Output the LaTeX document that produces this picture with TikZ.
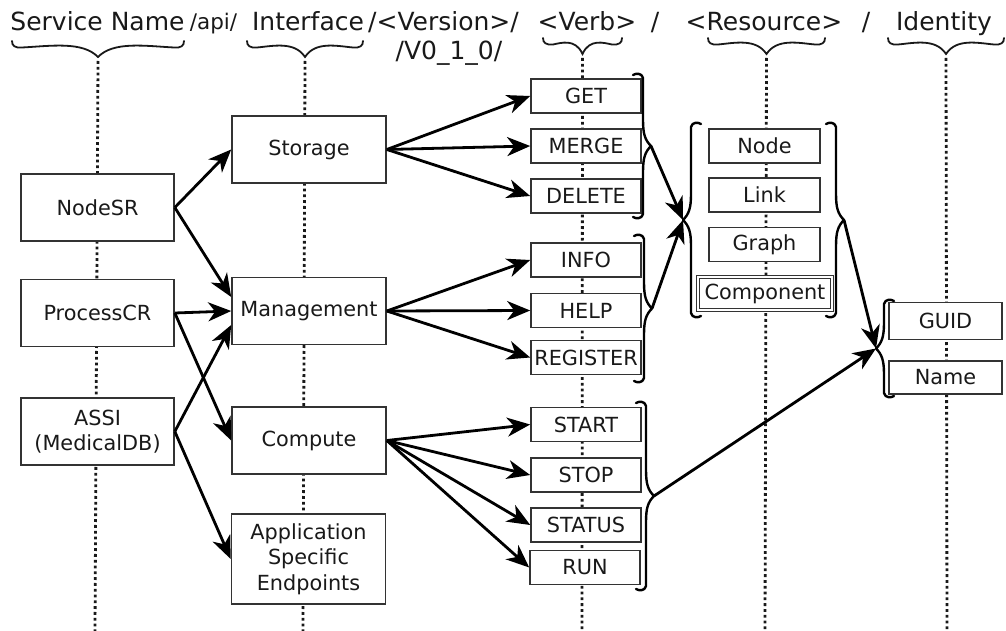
\documentclass[tikz,border=0pt]{standalone}
\usepackage{fontspec}
\setmainfont{DejaVu Sans}
\usetikzlibrary{arrows.meta}

% horizontal curly brace under a header word: left x, right x, top y, name of the tip
\newcommand\TopBrace[4]{%
  \pgfmathsetmacro\tbm{(#1+#2)/2}%
  \pgfmathsetmacro\tbh{(#2-#1)/2}%
  \draw[bracepen] (#1,#3) .. controls (#1,#3+5) and (#1+3,#3+7) .. (#1+10,#3+6.5)
     .. controls (\tbm-0.55*\tbh,#3+5) and (\tbm-0.18*\tbh,#3) .. (\tbm,#3+16)
     .. controls (\tbm+0.18*\tbh,#3) and (\tbm+0.55*\tbh,#3+5) .. (#2-10,#3+6.5)
     .. controls (#2-3,#3+7) and (#2,#3+5) .. (#2,#3);
  \coordinate (#4) at (\tbm,#3+16);
}
% vertical brace: spine x, top y, bottom y, direction of the tip (1 right, -1 left), name of the tip
\newcommand\SideBrace[5]{%
  \pgfmathsetmacro\sbm{(#2+#3)/2}%
  \pgfmathsetmacro\sbha{#1-#4*10}% hook end
  \pgfmathsetmacro\sbhb{#1-#4*7}%
  \pgfmathsetmacro\sbhc{#1-#4*1}%
  \pgfmathsetmacro\sbta{#1+#4*2}%
  \pgfmathsetmacro\sbtb{#1+#4*8}% tip
  \draw[sidepen] (\sbha,#2+1) .. controls (\sbhb,#2-1) and (\sbhc,#2-1) .. (#1,#2+4)
     -- (#1,\sbm-26) .. controls (#1,\sbm-12) and (\sbta,\sbm-6) .. (\sbtb,\sbm)
     .. controls (\sbta,\sbm+6) and (#1,\sbm+12) .. (#1,\sbm+26)
     -- (#1,#3-4) .. controls (\sbhc,#3+1) and (\sbhb,#3+1) .. (\sbha,#3-1);
  \coordinate (#5) at (\sbtb,\sbm);
}

\begin{document}
\begin{tikzpicture}[x=1pt,y=-1pt,
  box/.style={draw=black!80, line width=1.6pt, fill=white, text=black!90,
    inner sep=0pt, align=center, font=\fontsize{20.8}{25.5}\selectfont},
  verb/.style={box, minimum width=110, minimum height=34},
  res/.style={box, minimum width=111, minimum height=34},
  ident/.style={box, minimum width=113, minimum height=35},
  svc/.style={box, minimum width=153, minimum height=67},
  iface/.style={box, minimum width=154, minimum height=67},
  hdr/.style={anchor=base, inner sep=0pt, text=black!90, font=\fontsize{25}{30}\selectfont},
  dots/.style={line width=2.8pt, dash pattern=on 2.8pt off 3pt, black!90},
  bracepen/.style={line width=1.8pt, line cap=round, black!90},
  sidepen/.style={line width=2.4pt, line cap=round, line join=round, black},
  arr/.style={line width=2.8pt, -{Stealth[length=23pt, width=19pt, inset=7pt]}}]

\useasboundingbox (0,0) rectangle (1006,631);

% header line
\node[hdr] (hsvc) at (97.5,31) {Service Name};
\node[hdr, font=\fontsize{21.5}{26}\selectfont] (hapi) at (213.5,30) {/api/};
\node[hdr] (hif) at (308,31) {Interface};
\node[hdr] (hver) at (443.5,31) {/<Version>/};
\node[hdr] (hver2) at (449,60) {/V0\_1\_0/};
\node[hdr] (hverb) at (587,31) {<Verb>};
\node[hdr] (hs1) at (655,31) {/};
\node[hdr] (hres) at (764,31) {<Resource>};
\node[hdr] (hs2) at (866,31) {/};
\node[hdr] (hid) at (944,31) {Identity};

% braces under the header words
\TopBrace{12}{184}{41}{bsvc}
\TopBrace{247}{363}{41}{bif}
\TopBrace{543}{622}{38}{bverb}
\TopBrace{708}{825}{38}{bres}
\TopBrace{888}{1004}{38}{bid}

% dotted guide lines down each column
\coordinate (esvc) at (95,631);
\coordinate (eif) at (303,631);
\coordinate (everb) at (582,631);
\coordinate (eres) at (765,631);
\coordinate (eid) at (947,631);
\draw[dots] ([yshift=-4pt]bsvc) -- (esvc);
\draw[dots] ([yshift=-4pt]bif) -- (eif);
\draw[dots] ([yshift=-4pt]bverb) -- (everb);
\draw[dots] ([yshift=-4pt]bres) -- (eres);
\draw[dots] ([yshift=-4pt]bid) -- (eid);

% services
\node[svc] (nodesr) at (97.5,207.5) {NodeSR};
\node[svc] (processcr) at (97.5,313) {ProcessCR};
\node[svc] (assi) at (97.5,431.5) {ASSI\\(MedicalDB)};

% interfaces
\node[iface] (storage) at (309,149.5) {Storage};
\node[iface] (management) at (309,311) {Management};
\node[iface] (compute) at (309,440.5) {Compute};
\node[iface, minimum height=90] (appspec) at (308.5,559) {Application\\Specific\\Endpoints};

% verbs
\node[verb] (get) at (586,96) {GET};
\node[verb] (merge) at (586,146) {MERGE};
\node[verb] (delete) at (586,196) {DELETE};
\node[verb] (info) at (586,260) {INFO};
\node[verb] (help) at (586,310.5) {HELP};
\node[verb] (register) at (586,357.5) {REGISTER};
\node[verb] (start) at (586,424.5) {START};
\node[verb] (stop) at (586,475) {STOP};
\node[verb] (status) at (586,525) {STATUS};
\node[verb] (run) at (585,567.5) {RUN};

% resources
\node[res] (rnode) at (764.5,146) {Node};
\node[res] (rlink) at (764.5,195) {Link};
\node[res] (rgraph) at (764.5,244.5) {Graph};
\node[box, minimum width=134, minimum height=33, double=white, double distance=1.8pt, line width=1.1pt] (rcomp) at (765,293.5) {Component};

% identities
\node[ident, minimum height=37] (guid) at (945.5,321) {GUID};
\node[ident, minimum height=33] (name) at (945.5,377.5) {Name};

% group braces
\SideBrace{643}{74}{218}{1}{vtip1}
\SideBrace{644}{235}{382}{1}{vtip2}
\SideBrace{646}{402}{590}{1}{vtip3}
\SideBrace{691}{123}{317}{-1}{rtipl}
\SideBrace{836}{123}{317}{1}{rtipr}
\SideBrace{884}{300}{397}{-1}{itip}

% service -> interface
\draw[arr] (nodesr.east) -- (storage.west);
\draw[arr] (nodesr.east) -- ([yshift=14pt]management.west);
\draw[arr] (processcr.east) -- (management.west);
\draw[arr] (processcr.east) -- (compute.west);
\draw[arr] (assi.east) -- ([yshift=-14pt]management.west);
\draw[arr] (assi.east) -- (appspec.west);

% interface -> verb
\draw[arr] (storage.east) -- (get.west);
\draw[arr] (storage.east) -- (merge.west);
\draw[arr] (storage.east) -- (delete.west);
\draw[arr] (management.east) -- (info.west);
\draw[arr] (management.east) -- (help.west);
\draw[arr] (management.east) -- (register.west);
\draw[arr] (compute.east) -- (start.west);
\draw[arr] (compute.east) -- (stop.west);
\draw[arr] (compute.east) -- (status.west);
\draw[arr] (compute.east) -- (run.west);

% verb groups -> resources -> identity
\draw[arr] (vtip1) -- (rtipl);
\draw[arr] (vtip2) -- (rtipl);
\draw[arr] (rtipr) -- (itip);
\draw[arr] (vtip3) -- (itip);

\end{tikzpicture}
\end{document}
